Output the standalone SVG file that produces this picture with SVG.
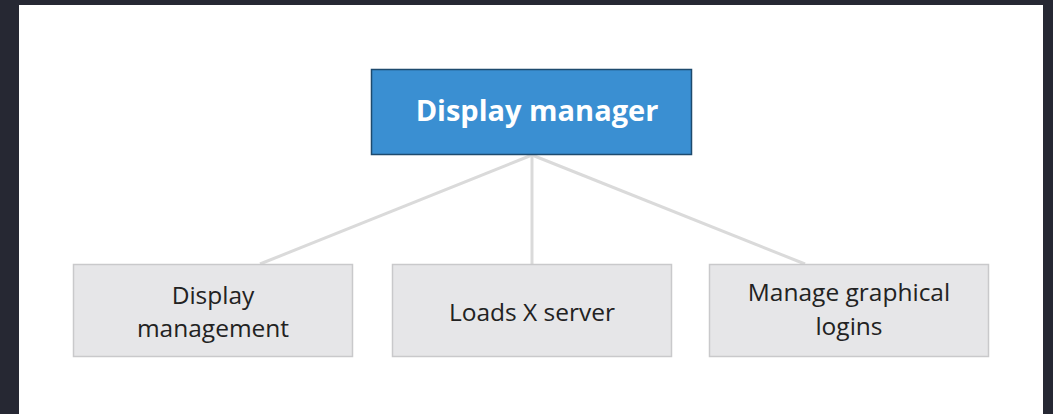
<svg xmlns="http://www.w3.org/2000/svg" width="1053" height="414" viewBox="0 0 1053 414">
<style>
.child rect{fill:#e6e6e8;stroke:#c9c9cb;stroke-width:1.5}
.child text{font-family:"Open Sans","Noto Sans",sans-serif;font-size:24.5px;fill:#222222;text-anchor:middle}
.conn line{stroke:#dadada;stroke-width:3}
</style>
<rect x="0" y="0" width="1053" height="414" fill="#262833"/>
<rect x="19" y="5" width="1024" height="409" fill="#ffffff"/>
<g id="connectors" class="conn">
<line x1="532" y1="155" x2="260" y2="264"/>
<line x1="532" y1="155" x2="532" y2="264"/>
<line x1="532" y1="155" x2="805" y2="264"/>
</g>
<g id="display-manager">
<rect x="371.5" y="69.5" width="320" height="85" fill="#3a8fd2" stroke="#1d4a6e" stroke-width="1.5"/>
<text x="537" y="121" font-family="'Open Sans','Noto Sans',sans-serif" font-size="29" font-weight="bold" fill="#ffffff" text-anchor="middle">Display manager</text>
</g>
<g id="display-management" class="child">
<rect x="73.5" y="264.5" width="279" height="92"/>
<text x="213" y="304">Display</text>
<text x="213" y="337">management</text>
</g>
<g id="loads-x-server" class="child">
<rect x="392.5" y="264.5" width="279" height="92"/>
<text x="532" y="321">Loads X server</text>
</g>
<g id="manage-graphical-logins" class="child">
<rect x="709.5" y="264.5" width="279" height="92"/>
<text x="849" y="301">Manage graphical</text>
<text x="849" y="335">logins</text>
</g>
</svg>
